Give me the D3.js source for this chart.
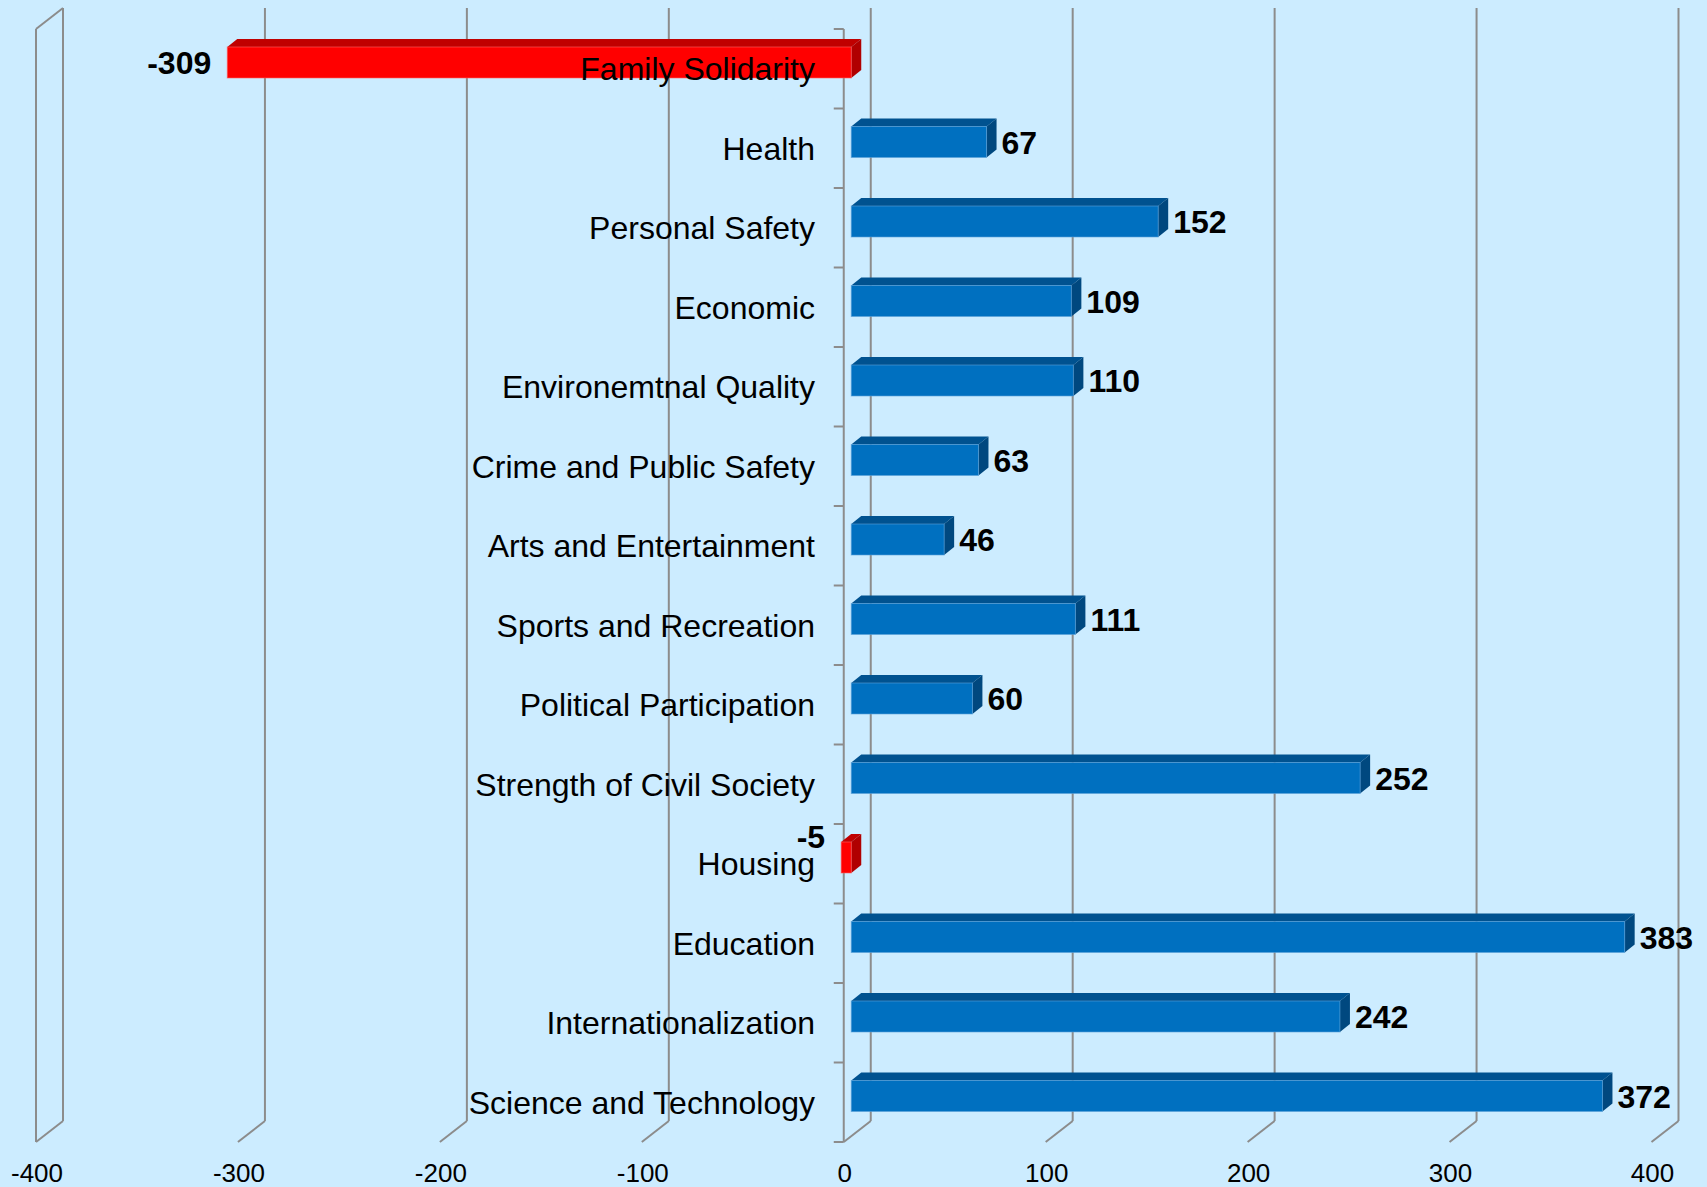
<!DOCTYPE html>
<html>
<head>
<meta charset="utf-8">
<script src="https://cdn.jsdelivr.net/npm/d3@7"></script>
<style>
html,body{margin:0;padding:0;background:#CCECFF;}
svg{display:block;}
</style>
</head>
<body>
<svg id="chart" width="1707" height="1187"></svg>
<script>
const categories = ["Family Solidarity","Health","Personal Safety","Economic","Environemtnal Quality","Crime and Public Safety","Arts and Entertainment","Sports and Recreation","Political Participation","Strength of Civil Society","Housing","Education","Internationalization","Science and Technology"];
const values = [-309,67,152,109,110,63,46,111,60,252,-5,383,242,372];
const xTicks = [-400,-300,-200,-100,0,100,200,300,400];

const W = 1707, H = 1187;
const svg = d3.select("#chart");
svg.append("rect").attr("width",W).attr("height",H).attr("fill","#CCECFF");

const plotTop = 29, plotBottom = 1142;
const x = d3.scaleLinear().domain([-400,400]).range([36,1651.5]);
const y = d3.scaleBand().domain(categories).range([plotTop,plotBottom]).padding(0);

const DX = 27, DY = -21;           // depth of the floor / walls
const BFX = 7.5, BFY = -6;         // bar front-face offset
const BDX = 10, BDY = -8;          // bar depth
const gridColor = "#8C8C8C";
const font = "'Liberation Sans', Arial, Helvetica, sans-serif";

const grid = svg.append("g").attr("stroke",gridColor).attr("stroke-width",2).attr("fill","none");
xTicks.forEach(t => {
  const fx = x(t);
  grid.append("line").attr("x1",fx+DX).attr("x2",fx+DX).attr("y1",plotTop+DY).attr("y2",plotBottom+DY);
  grid.append("line").attr("x1",fx).attr("x2",fx+DX).attr("y1",plotBottom).attr("y2",plotBottom+DY);
});
const lx = x(-400);
grid.append("line").attr("x1",lx).attr("x2",lx).attr("y1",plotTop).attr("y2",plotBottom);
grid.append("line").attr("x1",lx).attr("x2",lx+DX).attr("y1",plotTop).attr("y2",plotTop+DY);

const zx = x(0);
grid.append("line").attr("x1",zx).attr("x2",zx).attr("y1",plotTop).attr("y2",plotBottom);
const bounds = categories.map(c => y(c)).concat([plotBottom]);
bounds.forEach(b => {
  grid.append("line").attr("x1",zx-10).attr("x2",zx).attr("y1",b).attr("y2",b);
});

const data = categories.map((c,i) => ({c, v: values[i]}));
const bars = svg.append("g");
const colors = {
  pos: {front:"#0070C0", top:"#005290", side:"#00487F", edge:"#5AA0D8"},
  neg: {front:"#FF0000", top:"#C00000", side:"#B00000", edge:"#FF6060"}
};
data.forEach(d => {
  const col = d.v >= 0 ? colors.pos : colors.neg;
  const x0 = Math.min(x(0), x(d.v)) + BFX;
  const x1 = Math.max(x(0), x(d.v)) + BFX;
  const y0 = y(d.c) + 18;
  const y1 = y(d.c) + 49;
  bars.append("path").attr("fill",col.top)
    .attr("d",`M${x0},${y0}L${x0+BDX},${y0+BDY}L${x1+BDX},${y0+BDY}L${x1},${y0}Z`);
  bars.append("path").attr("fill",col.side)
    .attr("d",`M${x1},${y0}L${x1+BDX},${y0+BDY}L${x1+BDX},${y1+BDY}L${x1},${y1}Z`);
  bars.append("rect").attr("x",x0).attr("y",y0).attr("width",x1-x0).attr("height",y1-y0)
    .attr("fill",col.front).attr("stroke",col.edge).attr("stroke-width",1).attr("stroke-opacity",0.6);
});

svg.append("g").selectAll("text").data(categories).join("text")
  .attr("x",815).attr("y",c => y(c)+y.bandwidth()/2)
  .attr("dy","0.36em").attr("text-anchor","end")
  .attr("font-family",font).attr("font-size",32).attr("fill","#000")
  .text(c => c);

const vl = svg.append("g").attr("font-family",font).attr("font-size",32).attr("font-weight","bold").attr("fill","#000");
data.forEach(d => {
  const yc = y(d.c) + 18 + 15.5;
  if (d.v >= 0) {
    vl.append("text").attr("x", x(d.v)+BFX+BDX+5).attr("y",yc).attr("dy","0.36em").text(d.v);
  } else {
    const small = Math.abs(d.v) < 20;
    vl.append("text").attr("text-anchor","end")
      .attr("x", x(d.v)+BFX-16).attr("y", small ? yc-21 : yc).attr("dy","0.36em").text(d.v);
  }
});

svg.append("g").selectAll("text").data(xTicks).join("text")
  .attr("x",t => x(t)+1).attr("y",1182)
  .attr("text-anchor","middle")
  .attr("font-family",font).attr("font-size",26).attr("fill","#000")
  .text(t => t);
</script>
</body>
</html>
